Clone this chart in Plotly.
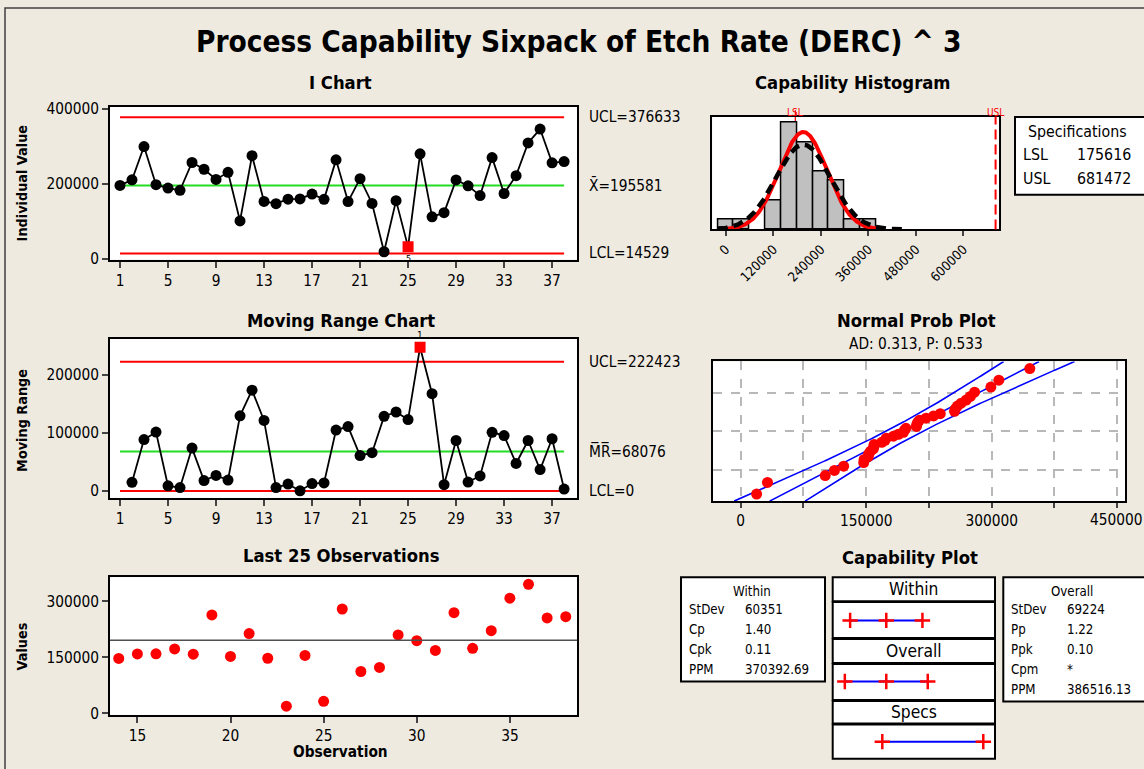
import numpy as np
import plotly.graph_objects as go
from statistics import NormalDist

# figure size and render mapping (layout px -> picture px)
FW, FH = 1144, 769
SX, OX = 1.0, 0.0
SY, OY = 0.977, 7.0
FONT = "DejaVu Sans Condensed, Liberation Sans, Arial, sans-serif"
BG = "#EEEAE0"

# ---------------- data ----------------
obs = list(range(1, 39))
values = [195500, 210500, 299000, 197500, 188500, 182500, 256500, 238500, 211500, 230500,
          101000, 274500, 153000, 147000, 159000, 159500, 172500, 158500, 263500, 152500,
          213500, 147500, 19000, 155000, 32000, 279500, 112000, 123000, 210000, 194500,
          168500, 269500, 174000, 221500, 308500, 345500, 255500, 259000]
i_flagged = [25]      # observation flagged on I chart (test 5)
mr_flagged = [26]     # observation flagged on MR chart (test 1)

x_bar = 195581
i_ucl, i_lcl = 376633, 14529
mr_bar, mr_ucl, mr_lcl = 68076, 222423, 0
lsl, usl = 175616, 681472
sd_within, sd_overall = 60351, 69224
within_stats = [("StDev", "60351"), ("Cp", "1.40"), ("Cpk", "0.11"), ("PPM", "370392.69")]
overall_stats = [("StDev", "69224"), ("Pp", "1.22"), ("Ppk", "0.10"), ("Cpm", "*"), ("PPM", "386516.13")]
ad_text = "AD: 0.313, P: 0.533"
hist_start, hist_end, hist_size = -20000, 380000, 40000

i_ticks = [1, 5, 9, 13, 17, 21, 25, 29, 33, 37]
l25_ticks = [15, 20, 25, 30, 35]
hist_ticks = [0, 120000, 240000, 360000, 480000, 600000]
prob_ticks = [0, 75000, 150000, 225000, 300000, 375000, 450000]
prob_ticktext = ["0", "", "150000", "", "300000", "", ""]
prob_last_label = "450000"
prob_grid_pct = [10, 50, 90]


def px(t):
    return ((t - OX) / SX) / FW


def py(t):
    return 1 - ((t - OY) / SY) / FH


def fs(s):
    return round(s / 0.982, 1)


mr = [abs(values[i] - values[i - 1]) for i in range(1, len(values))]
mr_obs = obs[1:]

fig = go.Figure()

# ---------------- I chart ----------------
for val, col in [(i_ucl, "#FF0000"), (x_bar, "#22DD22"), (i_lcl, "#FF0000")]:
    fig.add_trace(go.Scatter(x=[1, 38], y=[val, val], mode="lines",
                             line=dict(color=col, width=2), xaxis="x", yaxis="y", hoverinfo="skip"))
fig.add_trace(go.Scatter(
    x=obs, y=values, mode="lines+markers", xaxis="x", yaxis="y",
    line=dict(color="black", width=1.8),
    marker=dict(size=11,
                symbol=["square" if o in i_flagged else "circle" for o in obs],
                color=["#FF0000" if o in i_flagged else "black" for o in obs], line=dict(width=0))))

# ---------------- MR chart ----------------
for val, col in [(mr_ucl, "#FF0000"), (mr_bar, "#22DD22"), (mr_lcl, "#FF0000")]:
    fig.add_trace(go.Scatter(x=[1, 38], y=[val, val], mode="lines",
                             line=dict(color=col, width=2), xaxis="x2", yaxis="y2", hoverinfo="skip"))
fig.add_trace(go.Scatter(
    x=mr_obs, y=mr, mode="lines+markers", xaxis="x2", yaxis="y2",
    line=dict(color="black", width=1.8),
    marker=dict(size=11,
                symbol=["square" if o in mr_flagged else "circle" for o in mr_obs],
                color=["#FF0000" if o in mr_flagged else "black" for o in mr_obs], line=dict(width=0))))

# ---------------- Last 25 ----------------
fig.add_trace(go.Scatter(x=obs[-25:], y=values[-25:], mode="markers", xaxis="x3", yaxis="y3",
                         marker=dict(size=11, color="#FF0000")))

# ---------------- Histogram ----------------
fig.add_trace(go.Histogram(x=values, xbins=dict(start=hist_start, end=hist_end, size=hist_size),
                           xaxis="x4", yaxis="y4",
                           marker=dict(color="#C0C0C0", line=dict(color="black", width=1.5))))
n = len(values)
xs_w = np.linspace(x_bar - 3.29 * sd_within, x_bar + 3.29 * sd_within, 300)
ys_w = n * hist_size * np.exp(-0.5 * ((xs_w - x_bar) / sd_within) ** 2) / (sd_within * np.sqrt(2 * np.pi))
xs_o = np.linspace(x_bar - 3.7 * sd_overall, x_bar + 3.7 * sd_overall, 300)
ys_o = n * hist_size * np.exp(-0.5 * ((xs_o - x_bar) / sd_overall) ** 2) / (sd_overall * np.sqrt(2 * np.pi))
fig.add_trace(go.Scatter(x=xs_w, y=ys_w, mode="lines", xaxis="x4", yaxis="y4",
                         line=dict(color="#FF0000", width=4)))
fig.add_trace(go.Scatter(x=xs_o, y=ys_o, mode="lines", xaxis="x4", yaxis="y4",
                         line=dict(color="black", width=4.5, dash="10px,6px")))

# ---------------- Normal prob plot ----------------
nd = NormalDist()
zlim = nd.inv_cdf(0.99)
zz = np.linspace(-zlim, zlim, 200)
se = 1.96 * sd_overall * np.sqrt(1 / n + zz ** 2 / (2 * n))
fit = x_bar + zz * sd_overall
for xx in (fit - se, fit, fit + se):
    fig.add_trace(go.Scatter(x=xx, y=zz, mode="lines", xaxis="x5", yaxis="y5",
                             line=dict(color="#0000FF", width=1.6)))
sv = sorted(values)
zq = [nd.inv_cdf((i + 1 - 0.3) / (n + 0.4)) for i in range(n)]
fig.add_trace(go.Scatter(x=sv, y=zq, mode="markers", xaxis="x5", yaxis="y5",
                         marker=dict(size=11, color="#FF0000")))

# ---------------- Capability plot ----------------
rows_y = [619, 680, 740]
segs = [[x_bar - 3 * sd_within, x_bar, x_bar + 3 * sd_within],
        [x_bar - 3 * sd_overall, x_bar, x_bar + 3 * sd_overall],
        [lsl, usl]]
for seg, ry in zip(segs, rows_y):
    fig.add_trace(go.Scatter(x=seg, y=[ry] * len(seg), mode="lines+markers", xaxis="x6", yaxis="y6",
                             line=dict(color="#0000FF", width=2),
                             marker=dict(symbol="cross-thin", size=11, line=dict(color="#FF0000", width=2.5),
                                         color="#FF0000")))

# ---------------- axes ----------------
tickfont = dict(family=FONT, size=fs(15), color="black")
frame = dict(showline=True, linecolor="black", linewidth=2, mirror=True, showgrid=False, zeroline=False)


def dom_x(a, b):
    return [px(a), px(b)]


def dom_y(top, bottom):
    return [py(bottom), py(top)]


layout = dict(
    width=FW, height=FH, margin=dict(l=0, r=0, t=0, b=0), autosize=False,
    paper_bgcolor=BG, plot_bgcolor="white", showlegend=False, bargap=0,
    font=dict(family=FONT, color="black"),
    xaxis=dict(domain=dom_x(110, 577.3), range=[0.167, 39.1], tickvals=i_ticks, ticks="outside",
               ticklen=6, tickwidth=1.5, tickfont=tickfont, anchor="y", **frame),
    yaxis=dict(domain=dom_y(106.7, 259), range=[-1800, 404400], tickvals=[0, 200000, 400000],
               tickformat="d", ticks="outside", ticklen=6, tickwidth=1.5, tickfont=tickfont, anchor="x", **frame),
    xaxis2=dict(domain=dom_x(110, 577.3), range=[0.167, 39.1], tickvals=i_ticks, ticks="outside",
                ticklen=6, tickwidth=1.5, tickfont=tickfont, anchor="y2", **frame),
    yaxis2=dict(domain=dom_y(338.3, 496.7), range=[-11550, 261500], tickvals=[0, 100000, 200000],
                tickformat="d", ticks="outside", ticklen=6, tickwidth=1.5, tickfont=tickfont, anchor="x2", **frame),
    xaxis3=dict(domain=dom_x(110, 577.3), range=[13.53, 38.62], tickvals=l25_ticks, ticks="outside",
                ticklen=6, tickwidth=1.5, tickfont=tickfont, anchor="y3", **frame),
    yaxis3=dict(domain=dom_y(576, 713.3), range=[-4300, 364500], tickvals=[0, 150000, 300000],
                tickformat="d", ticks="outside", ticklen=6, tickwidth=1.5, tickfont=tickfont, anchor="x3", **frame),
    xaxis4=dict(domain=dom_x(712.3, 999), range=[-34100, 690100], tickvals=hist_ticks, tickformat="d",
                tickangle=-45, ticks="outside", ticklen=5, tickwidth=1.5,
                tickfont=dict(family=FONT, size=fs(13), color="black"), anchor="y4", **frame),
    yaxis4=dict(domain=dom_y(116.3, 229), range=[0, 11.65], showticklabels=False, ticks="", anchor="x4", **frame),
    xaxis5=dict(domain=dom_x(712.7, 1125), range=[-33500, 459300], tickvals=prob_ticks, ticktext=prob_ticktext,
                ticks="outside", ticklen=5, tickwidth=1.5, tickfont=tickfont, anchor="y5",
                showline=True, linecolor="black", linewidth=2, mirror=True, zeroline=False,
                showgrid=True, gridcolor="#B8B8B8", gridwidth=1.5, griddash="dash"),
    yaxis5=dict(domain=dom_y(360.7, 500), range=[-zlim, zlim],
                tickvals=[nd.inv_cdf(p / 100) for p in prob_grid_pct], showticklabels=False, ticks="",
                anchor="x5", showline=True, linecolor="black", linewidth=2, mirror=True, zeroline=False,
                showgrid=True, gridcolor="#B8B8B8", gridwidth=1.5, griddash="dash"),
    xaxis6=dict(domain=dom_x(832.7, 995), range=[-72800, 740100], visible=False, anchor="y6"),
    yaxis6=dict(domain=dom_y(576, 757), range=[757, 576], visible=False, anchor="x6"),
)
fig.update_layout(**layout)

shapes = []
# outer frame
shapes.append(dict(type="rect", xref="paper", yref="paper", x0=px(5), x1=px(1180), y0=py(8), y1=py(800),
                   line=dict(color="#404040", width=1.5), layer="below"))
# last-25 mean line
shapes.append(dict(type="line", xref="x3 domain", yref="y3", x0=0, x1=1, y0=x_bar, y1=x_bar,
                   line=dict(color="#505050", width=1.5)))
# spec lines on histogram
shapes.append(dict(type="line", xref="x4", yref="y4 domain", x0=lsl, x1=lsl, y0=0, y1=1.055,
                   line=dict(color="#FF0000", width=1.2), layer="below"))
shapes.append(dict(type="line", xref="x4", yref="y4 domain", x0=usl, x1=usl, y0=0, y1=1,
                   line=dict(color="#FF0000", width=2, dash="10px,5px")))


def box(x0, y0, x1, y1):
    shapes.append(dict(type="rect", xref="paper", yref="paper", x0=px(x0), x1=px(x1), y0=py(y1), y1=py(y0),
                       line=dict(color="black", width=2), fillcolor="white", layer="below"))


box(1015, 116.7, 1180, 194.3)       # specifications
box(681, 576, 825, 680)             # within stats
box(1003.3, 576, 1180, 700)         # overall stats
for a, b in [(576, 600), (600.7, 636.5), (637.5, 661.5), (662.5, 698.5), (699.5, 722), (723, 757)]:
    box(832.7, a, 995, b)
fig.update_layout(shapes=shapes)

ann = []


def text(x, y, s, size=15, bold=False, anchor="center", color="black", angle=0):
    f = dict(family=FONT, size=fs(size), color=color)
    if bold:
        f["weight"] = "bold"
    ann.append(dict(x=px(x), y=py(y), xref="paper", yref="paper", text=s, showarrow=False,
                    xanchor=anchor, yanchor="middle", font=f, textangle=angle))


text(578, 42, "Process Capability Sixpack of Etch Rate (DERC) ^ 3", size=29, bold=True)
text(340, 82, "I Chart", size=18, bold=True)
text(853, 82, "Capability Histogram", size=18, bold=True)
text(341, 320, "Moving Range Chart", size=18, bold=True)
text(916, 320, "Normal Prob Plot", size=18, bold=True)
text(916, 343, ad_text, size=15)
text(341, 554, "Last 25 Observations", size=18, bold=True)
text(910, 556, "Capability Plot", size=18, bold=True)
text(22, 183, "Individual Value", size=14, bold=True, angle=-90)
text(22, 420, "Moving Range", size=14, bold=True, angle=-90)
text(22, 645, "Values", size=14, bold=True, angle=-90)
text(340, 750, "Observation", size=15, bold=True)

# prob plot last tick label (same row as the other tick labels)
text(1116, 519, prob_last_label, size=15)

# control-limit labels
for val, s, ax in [(i_ucl, "UCL=376633", "y"), (x_bar, "X\u0304=195581", "y"), (i_lcl, "LCL=14529", "y"),
                   (mr_ucl, "UCL=222423", "y2"), (mr_bar, "M\u0305R\u0305=68076", "y2"), (mr_lcl, "LCL=0", "y2")]:
    ann.append(dict(x=px(587), y=val, xref="paper", yref=ax, text=s, showarrow=False, xanchor="left",
                    yanchor="middle", font=dict(family=FONT, size=fs(15), color="black")))
# test labels
for o in i_flagged:
    ann.append(dict(x=o, y=values[o - 1], xref="x", yref="y", text="5", showarrow=False, yshift=-12,
                    font=dict(family=FONT, size=9, color="black")))
for o in mr_flagged:
    ann.append(dict(x=o, y=mr[o - 2], xref="x2", yref="y2", text="1", showarrow=False, yshift=12,
                    font=dict(family=FONT, size=10, color="black")))

# spec labels
ann.append(dict(x=lsl, y=py(105), xref="x4", yref="paper", text="LSL", showarrow=False,
                font=dict(family=FONT, size=10, color="#FF0000")))
ann.append(dict(x=usl, y=py(105), xref="x4", yref="paper", text="USL", showarrow=False,
                font=dict(family=FONT, size=10, color="#FF0000")))

# specifications box
text(1077, 131, "Specifications", size=15.5)
text(1021, 154.3, "LSL", size=15.5, anchor="left")
text(1075, 154.3, str(lsl), size=15.5, anchor="left")
text(1021, 177.7, "USL", size=15.5, anchor="left")
text(1075, 177.7, str(usl), size=15.5, anchor="left")

# within table
text(751.7, 590, "Within", size=13)
for k, (lab, v) in enumerate(within_stats):
    yy = 608.3 + 20 * k
    text(687, yy, lab, size=13, anchor="left")
    text(743, yy, v, size=13, anchor="left")
# overall table
text(1071.7, 590, "Overall", size=13)
for k, (lab, v) in enumerate(overall_stats):
    yy = 608.3 + 20 * k
    text(1009, yy, lab, size=13, anchor="left")
    text(1065, yy, v, size=13, anchor="left")
# capability plot headers
text(913.8, 588, "Within", size=17)
text(913.8, 649.5, "Overall", size=17)
text(913.8, 710.8, "Specs", size=17)

fig.update_layout(annotations=ann)
fig.write_html("out.html",
               post_script="document.documentElement.style.background='%s';"
                           "document.body.style.background='%s';" % (BG, BG))
